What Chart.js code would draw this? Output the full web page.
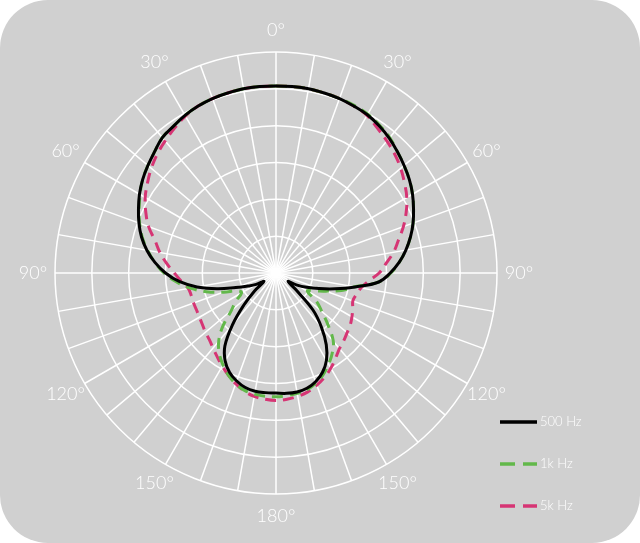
<!DOCTYPE html>
<html>
<head>
<meta charset="utf-8">
<title>Polar pattern</title>
<script src="https://cdn.jsdelivr.net/npm/chart.js@4.4.1/dist/chart.umd.min.js"></script>
<style>
  html, body { margin: 0; padding: 0; background: #fff; }
  #card { position: relative; width: 640px; height: 543px; background: #d0d0d0; border-radius: 48px; overflow: hidden; }
  #polar { position: absolute; left: 0; top: 0; }
</style>
</head>
<body>
<div id="card"><canvas id="polar" width="640" height="543"></canvas></div>
<script>
// angle of each sample, clockwise from the front (0 = top)
const angles = [
  0, 5, 10, 15, 20, 25, 30, 35, 40, 45, 50, 55, 60, 65, 70, 75, 80, 85,
  90, 95, 100, 105, 110, 115, 120, 125, 130, 135, 140, 145, 150, 155, 160, 165, 170, 175,
  180, 185, 190, 195, 200, 205, 210, 215, 220, 225, 230, 235, 240, 245, 250, 255, 260, 265,
  270, 275, 280, 285, 290, 295, 300, 305, 310, 315, 320, 325, 330, 335, 340, 345, 350, 355
];

// labelled spokes, mirrored on both sides
const tickAngles = [0, 30, 60, 90, 120, 150, 180, 210, 240, 270, 300, 330];
const tickLabels = ['0°', '30°', '60°', '90°', '120°', '150°', '180°', '150°', '120°', '90°', '60°', '30°'];

const seriesNames = ['500 Hz', '1k Hz', '5k Hz'];

// level, one ring = 5
const level500 = [
  25.4, 25.4, 25.4, 25.3, 25.2, 25.0, 24.8, 24.4, 23.9, 23.3, 22.7, 22.1, 21.4, 20.6, 19.8, 18.9, 17.9, 16.8,
  15.5, 14.0, 10.9, 8.3, 6.2, 4.6, 3.3, 2.0, 3.5, 7.1, 9.6, 11.9, 13.7, 14.9, 15.7, 16.2, 16.4, 16.4,
  16.3, 16.3, 16.3, 16.1, 15.6, 14.9, 13.8, 12.1, 9.2, 6.2, 3.8, 2.0, 3.1, 4.2, 5.8, 8.3, 10.9, 13.2,
  15.0, 16.5, 17.8, 18.9, 19.8, 20.6, 21.4, 22.1, 22.7, 23.3, 24.0, 24.3, 24.7, 25.0, 25.2, 25.3, 25.4, 25.4
];
const level1k = [
  25.4, 25.4, 25.4, 25.3, 25.2, 25.1, 24.9, 24.5, 24.0, 23.3, 22.7, 22.1, 21.4, 20.6, 19.8, 18.9, 17.9, 16.8,
  15.6, 14.0, 10.8, 9.2, 7.2, 5.8, 4.9, 6.7, 8.1, 10.0, 12.1, 13.3, 14.3, 15.2, 15.9, 16.4, 16.6, 16.7,
  16.8, 16.8, 16.7, 16.5, 16.0, 15.3, 14.4, 13.4, 12.1, 10.2, 7.9, 6.7, 5.4, 5.7, 7.6, 9.8, 11.8, 13.6,
  15.2, 16.5, 17.7, 18.8, 19.7, 20.5, 21.3, 22.1, 22.7, 23.3, 24.0, 24.3, 24.7, 25.0, 25.2, 25.3, 25.4, 25.4
];
const level5k = [
  25.4, 25.4, 25.4, 25.3, 25.2, 25.0, 24.7, 24.0, 23.4, 22.8, 22.1, 21.3, 20.5, 19.5, 18.4, 17.2, 16.2, 15.0,
  14.0, 12.6, 11.7, 11.3, 11.1, 11.5, 11.9, 12.3, 12.6, 13.0, 13.4, 14.1, 14.9, 15.6, 16.2, 16.7, 17.0, 17.2,
  17.3, 17.2, 17.0, 16.6, 16.0, 15.3, 14.6, 13.9, 13.3, 12.8, 12.5, 12.2, 12.0, 11.9, 11.9, 11.9, 12.1, 12.9,
  13.8, 14.9, 16.0, 17.0, 18.4, 19.5, 20.5, 21.3, 22.1, 22.8, 23.4, 24.0, 24.6, 25.0, 25.2, 25.3, 25.4, 25.4
];

// degree labels outside the outer ring
const angleLabels = {
  id: 'angleLabels',
  afterDraw(chart) {
    const scale = chart.scales.r;
    const ctx = chart.ctx;
    ctx.save();
    ctx.font = '300 18px Lato, "Open Sans", sans-serif';
    ctx.fillStyle = '#fff';
    ctx.textAlign = 'center';
    ctx.textBaseline = 'middle';
    tickAngles.forEach((a, k) => {
      const p = scale.getPointPosition(angles.indexOf(a), scale.drawingArea + 22);
      ctx.fillText(tickLabels[k], p.x, p.y);
    });
    ctx.restore();
  }
};

// legend in the lower right corner
const sideLegend = {
  id: 'sideLegend',
  afterDraw(chart) {
    const ctx = chart.ctx;
    const x = 500, y0 = 422, gap = 42;
    chart.data.datasets.forEach((ds, i) => {
      const y = y0 + i * gap;
      ctx.save();
      ctx.strokeStyle = ds.borderColor;
      ctx.lineWidth = 3.5;
      ctx.setLineDash(ds.borderDash ? [15, 8] : []);
      ctx.beginPath();
      ctx.moveTo(x, y);
      ctx.lineTo(x + 37, y);
      ctx.stroke();
      ctx.fillStyle = '#fff';
      ctx.font = '300 13px Lato, "Open Sans", sans-serif';
      ctx.textBaseline = 'middle';
      ctx.fillText(ds.label, x + 40, y);
      ctx.restore();
    });
  }
};

new Chart(document.getElementById('polar'), {
  type: 'radar',
  data: {
    labels: angles.map(a => a + '°'),
    datasets: [
      { label: seriesNames[0], data: level500, borderColor: '#000', borderWidth: 3, fill: false },
      { label: seriesNames[1], data: level1k, borderColor: '#62b84a', borderWidth: 3, borderDash: [11, 7], fill: false },
      { label: seriesNames[2], data: level5k, borderColor: '#d63574', borderWidth: 3, borderDash: [11, 7], fill: false }
    ]
  },
  options: {
    responsive: false,
    animation: false,
    layout: { padding: { left: 55, right: 143, top: 52, bottom: 49 } },
    elements: {
      point: { radius: 0, hoverRadius: 0 },
      line: { tension: 0.4 }
    },
    plugins: {
      legend: { display: false },
      tooltip: { enabled: false }
    },
    scales: {
      r: {
        min: 0,
        max: 30,
        ticks: { display: false, stepSize: 5 },
        pointLabels: { display: false },
        grid: { circular: true, color: '#fff', lineWidth: 1.5 },
        angleLines: {
          color: ctx => (ctx.index % 2 ? 'rgba(0,0,0,0)' : '#fff'),
          lineWidth: 1.5
        }
      }
    }
  },
  plugins: [angleLabels, sideLegend]
});
</script>
</body>
</html>
